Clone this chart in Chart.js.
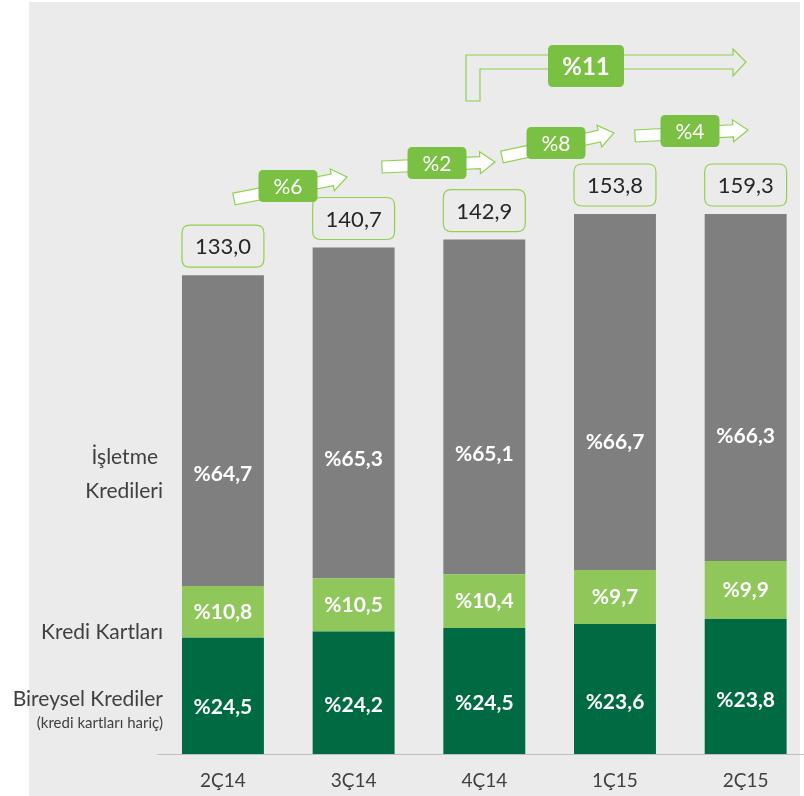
<!DOCTYPE html>
<html>
<head>
<meta charset="utf-8">
<script src="https://cdn.jsdelivr.net/npm/chart.js@4.4.1/dist/chart.umd.min.js"></script>
<style>
html, body { margin: 0; padding: 0; background: #fff; overflow: hidden; }
#bg { position: absolute; left: 29px; top: 2px; width: 771px; height: 794px; background: #ebebeb; }
#wrap { position: absolute; left: 0; top: 0; width: 812px; height: 796px; }
</style>
</head>
<body>
<div id="bg"></div>
<div id="wrap"><canvas id="myChart" width="812" height="796"></canvas></div>
<script>
// 분기 라벨
var quarters = ["2Ç14", "3Ç14", "4Ç14", "1Ç15", "2Ç15"];

// 막대 구간 크기 (그림에서 읽은 값, milyar TL)
var bireysel = [32.3, 34.0, 35.0, 36.1, 37.5];
var kartlar = [14.4, 14.8, 14.9, 15.0, 16.1];
var isletme = [86.3, 91.9, 93.0, 98.9, 96.4];

// 막대 안의 비율 라벨
var bireyselPct = ["%24,5", "%24,2", "%24,5", "%23,6", "%23,8"];
var kartlarPct = ["%10,8", "%10,5", "%10,4", "%9,7", "%9,9"];
var isletmePct = ["%64,7", "%65,3", "%65,1", "%66,7", "%66,3"];

// 막대 위 합계
var totals = ["133,0", "140,7", "142,9", "153,8", "159,3"];

// 분기별 성장률, 전체 성장률
var growth = ["%6", "%2", "%8", "%4"];
var totalGrowth = "%11";

var FONT = "Lato, 'Open Sans', sans-serif";
var LINE_GREEN = "#92d050";
var BOX_GREEN = "#7ac143";

// 화살표 모양 (픽셀)
var arrowShapes = [
	{ x1: 234, y1: 199, x2: 347, y2: 177, bx: 288, by: 186 },
	{ x1: 382, y1: 167, x2: 495, y2: 162, bx: 437, by: 163 },
	{ x1: 502, y1: 157, x2: 614, y2: 133, bx: 556, by: 143 },
	{ x1: 635, y1: 136, x2: 748, y2: 130, bx: 690, by: 131 }
];

function roundRect(ctx, x, y, w, h, r) {
	ctx.beginPath();
	ctx.moveTo(x + r, y);
	ctx.lineTo(x + w - r, y);
	ctx.quadraticCurveTo(x + w, y, x + w, y + r);
	ctx.lineTo(x + w, y + h - r);
	ctx.quadraticCurveTo(x + w, y + h, x + w - r, y + h);
	ctx.lineTo(x + r, y + h);
	ctx.quadraticCurveTo(x, y + h, x, y + h - r);
	ctx.lineTo(x, y + r);
	ctx.quadraticCurveTo(x, y, x + r, y);
	ctx.closePath();
}

// 기울어진 화살표 그리기
function drawArrow(ctx, s) {
	var dx = s.x2 - s.x1, dy = s.y2 - s.y1;
	var len = Math.sqrt(dx * dx + dy * dy);
	var ang = Math.atan2(dy, dx);
	var half = 6, headHalf = 11, headLen = 15;
	ctx.save();
	ctx.translate(s.x1, s.y1);
	ctx.rotate(ang);
	ctx.beginPath();
	ctx.moveTo(0, -half);
	ctx.lineTo(len - headLen, -half);
	ctx.lineTo(len - headLen, -headHalf);
	ctx.lineTo(len, 0);
	ctx.lineTo(len - headLen, headHalf);
	ctx.lineTo(len - headLen, half);
	ctx.lineTo(0, half);
	ctx.closePath();
	ctx.fillStyle = "#ffffff";
	ctx.fill();
	ctx.strokeStyle = LINE_GREEN;
	ctx.lineWidth = 1.2;
	ctx.stroke();
	ctx.restore();
}

function greenBox(ctx, cx, cy, w, h, text, bold, size) {
	roundRect(ctx, cx - w / 2, cy - h / 2, w, h, 5);
	ctx.fillStyle = BOX_GREEN;
	ctx.fill();
	ctx.fillStyle = "#ffffff";
	ctx.font = (bold ? "bold " : "") + size + "px " + FONT;
	ctx.textAlign = "center";
	ctx.textBaseline = "middle";
	ctx.fillText(text, cx, cy + 1);
}

var labelPlugin = {
	id: "labelPlugin",
	afterDatasetsDraw: function(chart) {
		var ctx = chart.ctx;
		var pctSets = [bireyselPct, kartlarPct, isletmePct];
		var fracs = [0.6, 0.5, 0.64];

		ctx.save();
		// 구간 안의 비율 라벨
		for (var d = 0; d < 3; d++) {
			var meta = chart.getDatasetMeta(d);
			meta.data.forEach(function(bar, i) {
				var top = Math.min(bar.y, bar.base);
				var bottom = Math.max(bar.y, bar.base);
				ctx.fillStyle = "#ffffff";
				ctx.font = "bold 21px " + FONT;
				ctx.textAlign = "center";
				ctx.textBaseline = "middle";
				ctx.fillText(pctSets[d][i], bar.x, top + fracs[d] * (bottom - top));
			});
		}

		// 합계 상자
		var topMeta = chart.getDatasetMeta(2);
		topMeta.data.forEach(function(bar, i) {
			var w = bar.width;
			var h = 42;
			var y = bar.y - 8 - h;
			roundRect(ctx, bar.x - w / 2, y, w, h, 8);
			ctx.fillStyle = "#ebebeb";
			ctx.fill();
			ctx.strokeStyle = LINE_GREEN;
			ctx.lineWidth = 1.2;
			ctx.stroke();
			ctx.fillStyle = "#262626";
			ctx.font = "22px " + FONT;
			ctx.textAlign = "center";
			ctx.textBaseline = "middle";
			ctx.fillText(totals[i], bar.x, y + h / 2 + 1);
		});

		// 분기별 성장 화살표
		arrowShapes.forEach(function(s, i) {
			drawArrow(ctx, s);
			greenBox(ctx, s.bx, s.by, 59, 32, growth[i], false, 21);
		});

		// 전체 성장 L자 화살표
		ctx.beginPath();
		ctx.moveTo(466, 101);
		ctx.lineTo(466, 55);
		ctx.lineTo(733, 55);
		ctx.lineTo(733, 49);
		ctx.lineTo(746, 62);
		ctx.lineTo(733, 76);
		ctx.lineTo(733, 69);
		ctx.lineTo(480, 69);
		ctx.lineTo(480, 101);
		ctx.closePath();
		ctx.strokeStyle = LINE_GREEN;
		ctx.lineWidth = 1.2;
		ctx.stroke();
		greenBox(ctx, 586, 66, 76, 42, totalGrowth, true, 24);

		// 왼쪽 범례 텍스트
		ctx.fillStyle = "#404040";
		ctx.textAlign = "right";
		ctx.textBaseline = "middle";
		ctx.font = "21px " + FONT;
		ctx.fillText("İşletme", 158, 457);
		ctx.fillText("Kredileri", 163, 491);
		ctx.fillText("Kredi Kartları", 163, 632);
		ctx.fillText("Bireysel Krediler", 163, 699);
		ctx.font = "15px " + FONT;
		ctx.fillText("(kredi kartları hariç)", 163, 723);
		ctx.restore();
	}
};

var ctx = document.getElementById("myChart").getContext("2d");
window.myChart = new Chart(ctx, {
	type: "bar",
	data: {
		labels: quarters,
		datasets: [
			{ label: "Bireysel Krediler", data: bireysel, backgroundColor: "#006a43" },
			{ label: "Kredi Kartları", data: kartlar, backgroundColor: "#8fc75b" },
			{ label: "İşletme Kredileri", data: isletme, backgroundColor: "#7f7f7f" }
		]
	},
	options: {
		responsive: false,
		animation: false,
		layout: { padding: { left: 157.6, right: 1, top: 34, bottom: 0 } },
		plugins: {
			legend: { display: false },
			tooltip: { enabled: false }
		},
		datasets: {
			bar: { categoryPercentage: 1, barPercentage: 0.627, borderWidth: 0 }
		},
		scales: {
			x: {
				stacked: true,
				offset: true,
				grid: { display: false },
				border: { display: true, color: "#bfbfbf", width: 1 },
				ticks: { color: "#404040", font: { family: FONT, size: 19 }, padding: 7 },
				afterFit: function(scale) { scale.height = 42; }
			},
			y: {
				stacked: true,
				display: false,
				min: 0,
				max: 200
			}
		}
	},
	plugins: [labelPlugin]
});
</script>
</body>
</html>
